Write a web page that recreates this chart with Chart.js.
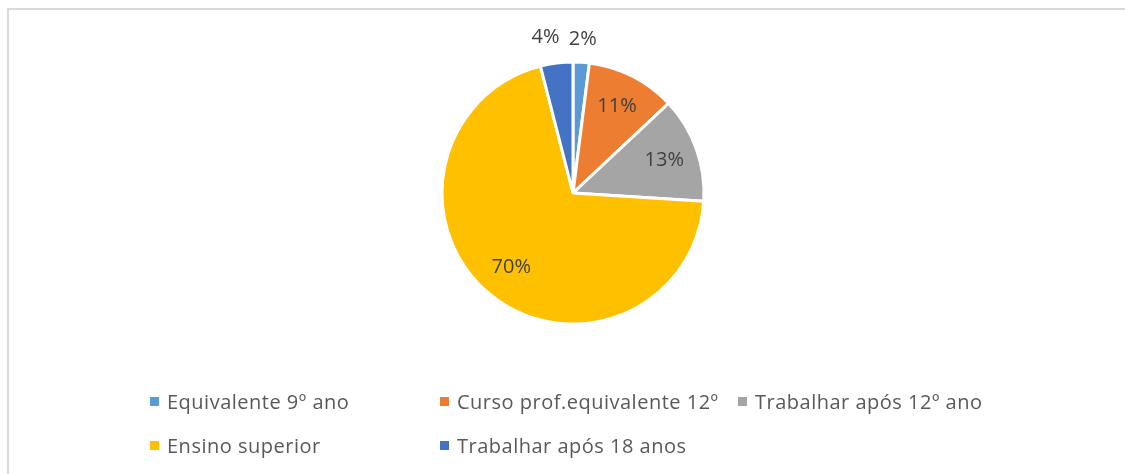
<!DOCTYPE html>
<html>
<head>
<meta charset="utf-8">
<script src="https://cdn.jsdelivr.net/npm/chart.js@4.4.1/dist/chart.umd.min.js"></script>
<style>
  html, body { margin: 0; padding: 0; background: #fff; }
  body { width: 1125px; height: 474px; position: relative; overflow: hidden; font-family: "Open Sans", sans-serif; }
  .frame { position: absolute; left: 7px; top: 8px; width: 1200px; height: 600px; border-left: 2px solid #d9d9d9; border-top: 2px solid #d9d9d9; }
  #wrap { position: absolute; left: 0; top: 0; width: 1125px; height: 474px; }
  #legend { position: absolute; left: 150px; top: 390px; display: grid; grid-template-columns: 290px 298px auto; row-gap: 21px; color: #595959; font-size: 20px; letter-spacing: 0.5px; }
  #legend .item { display: flex; align-items: center; height: 23px; white-space: nowrap; }
  #legend .box { width: 9px; height: 9px; margin-right: 8px; }
</style>
</head>
<body>
<div class="frame"></div>
<div id="wrap"><canvas id="pie_chart"></canvas></div>
<div id="legend"></div>
<script>
var categories = ["Equivalente 9º ano", "Curso prof.equivalente 12º", "Trabalhar após 12º ano", "Ensino superior", "Trabalhar após 18 anos"];
var values = [2, 11, 13, 70, 4];
var sliceLabels = ["2%", "11%", "13%", "70%", "4%"];
var sliceColors = ["#5B9BD5", "#ED7D31", "#A5A5A5", "#FFC000", "#4472C4"];

// percent labels: inside big slices, outside the small ones
var pctLabels = {
    id: "pctLabels",
    afterDatasetsDraw: function(chart) {
        var ctx = chart.ctx;
        var arcs = chart.getDatasetMeta(0).data;
        var total = values.reduce(function(a, b) { return a + b; }, 0);
        ctx.save();
        ctx.font = "20px 'Open Sans', sans-serif";
        ctx.fillStyle = "#404040";
        ctx.textBaseline = "middle";
        ctx.textAlign = "center";
        arcs.forEach(function(arc, i) {
            var p = arc.getProps(["x", "y", "startAngle", "endAngle", "outerRadius"], true);
            var mid = (p.startAngle + p.endAngle) / 2;
            var r, x, y;
            if (values[i] / total < 0.05) {
                r = p.outerRadius + 24;
                x = p.x + Math.cos(mid) * r;
                y = p.y + Math.sin(mid) * r + 1;
                if (Math.cos(mid) < 0) { x -= 8; y -= 3; }
            } else {
                r = p.outerRadius * 0.74;
                x = p.x + Math.cos(mid) * r;
                y = p.y + Math.sin(mid) * r;
            }
            ctx.fillText(sliceLabels[i], x, y);
        });
        ctx.restore();
    }
};

var chart = new Chart("pie_chart", {
    type: "pie",
    data: {
        labels: categories,
        datasets: [{
            data: values,
            backgroundColor: sliceColors,
            borderColor: "#ffffff",
            borderWidth: 3
        }]
    },
    options: {
        responsive: true,
        maintainAspectRatio: false,
        animation: false,
        radius: 131,
        layout: { padding: { left: 300, right: 279, top: 20, bottom: 108 } },
        plugins: {
            legend: { display: false },
            tooltip: { enabled: false }
        }
    },
    plugins: [pctLabels]
});

// legend in Excel-like grid
var items = chart.options.plugins.legend.labels.generateLabels(chart);
var legendEl = document.getElementById("legend");
items.forEach(function(it) {
    var d = document.createElement("div");
    d.className = "item";
    d.innerHTML = '<span class="box" style="background:' + it.fillStyle + '"></span><span>' + it.text + '</span>';
    legendEl.appendChild(d);
});
</script>
</body>
</html>
